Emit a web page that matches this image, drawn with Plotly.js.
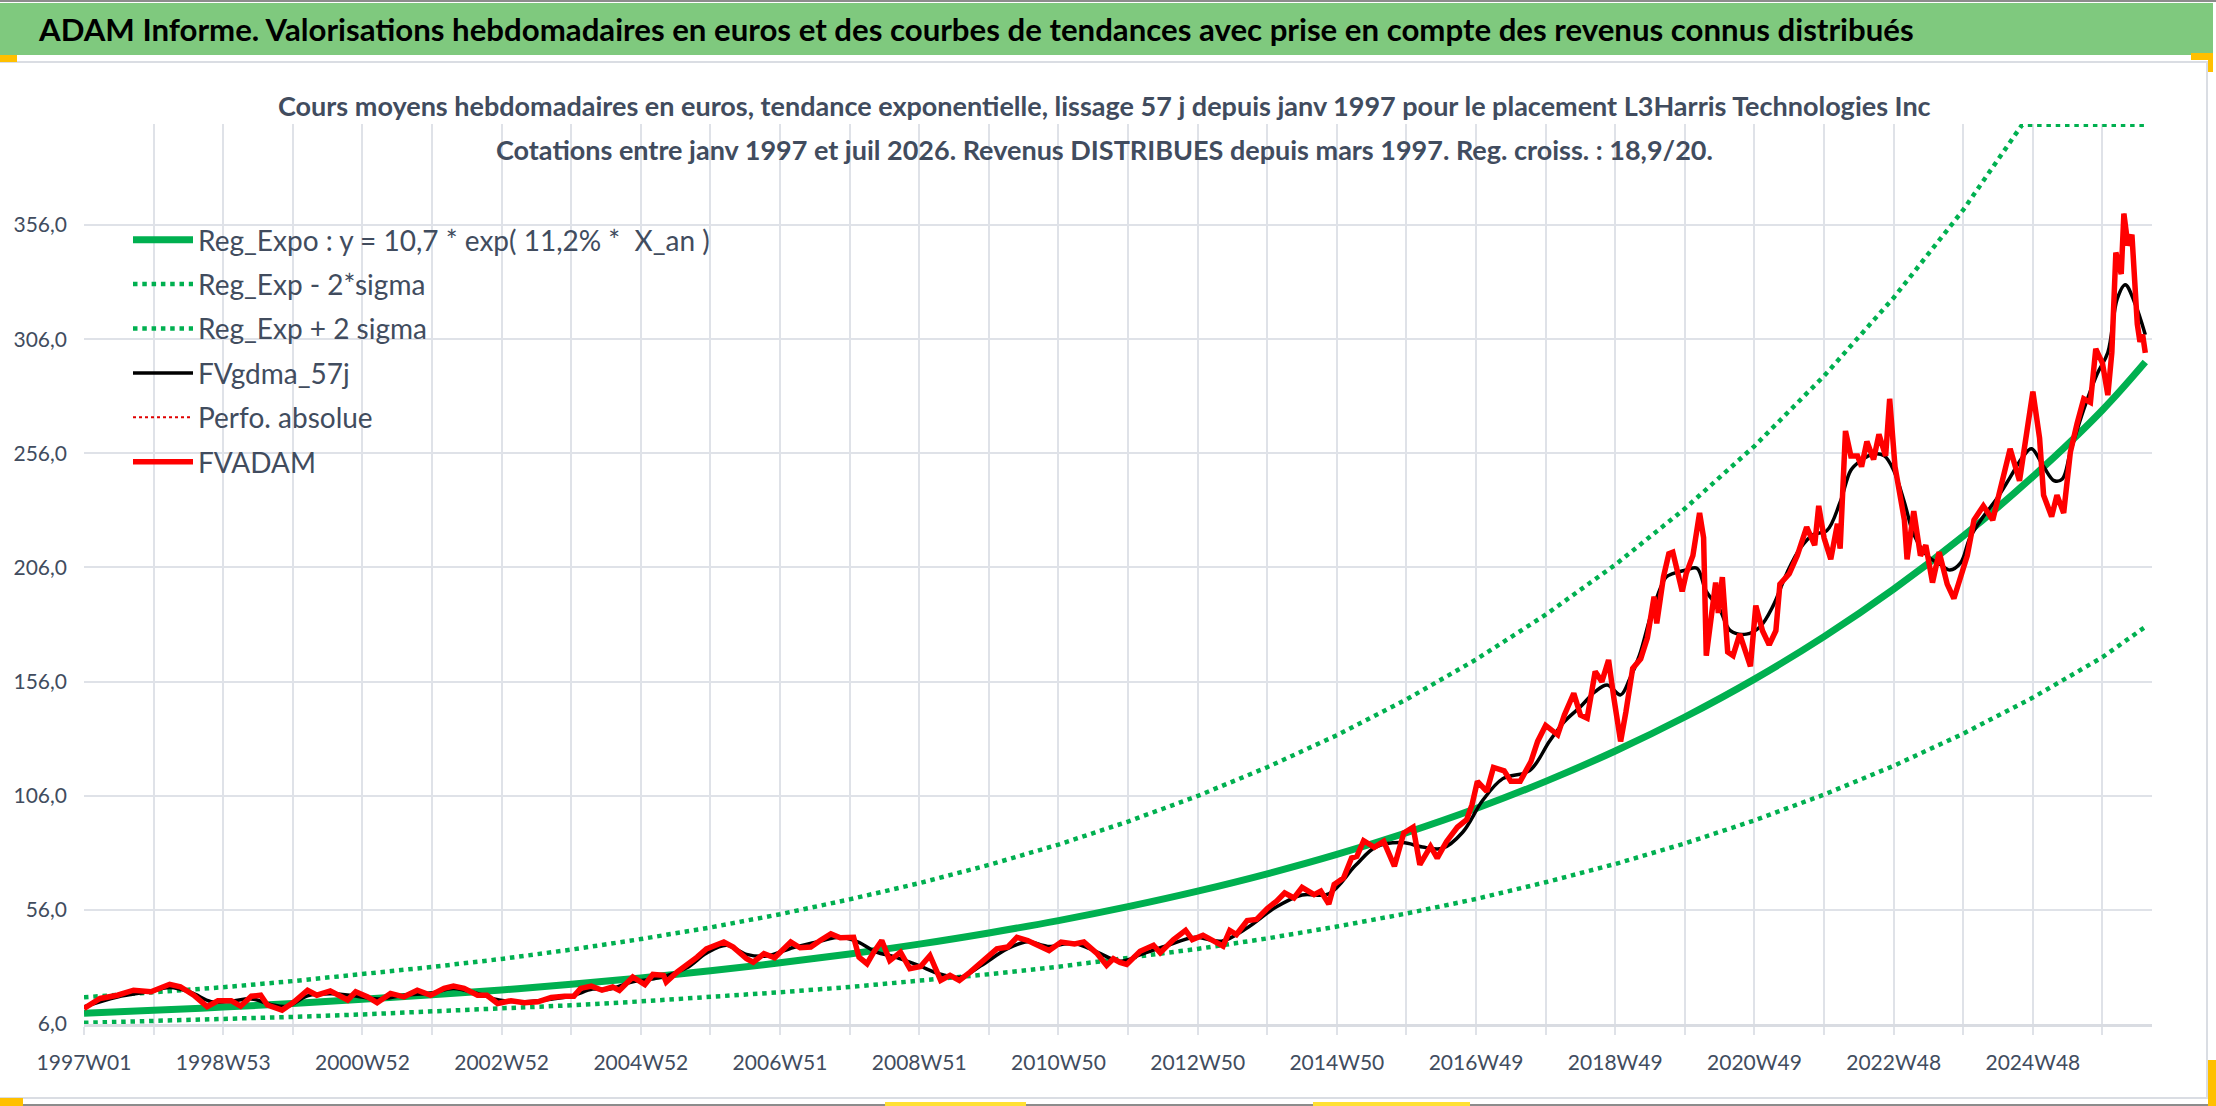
<!DOCTYPE html>
<html>
<head>
<meta charset="utf-8">
<script src="https://cdn.plot.ly/plotly-3.0.1.min.js"></script>
<style>
  html, body { margin: 0; padding: 0; background: #ffffff; }
  #chart { width: 2216px; height: 1106px; }
</style>
</head>
<body>
<div id="chart"></div>
<script>
// Week index 0 = 1997W01, one step per ISO week
const weekLabels = ["1997W01", "1998W53", "2000W52", "2002W52", "2004W52", "2006W51", "2008W51",
  "2010W50", "2012W50", "2014W50", "2016W49", "2018W49", "2020W49", "2022W48", "2024W48"];

// FVADAM (weekly valuation, euros)
const fvadamWeek = [0, 12, 25, 37, 50, 64, 72, 82, 92, 100, 110, 117, 125, 132, 137, 148, 157, 167, 174, 184,
  197, 203, 212, 219, 229, 239, 249, 259, 269, 276, 284, 294, 301, 309, 319, 329, 339, 349, 359, 366,
  371, 379, 387, 395, 400, 410, 419, 425, 433, 435, 443, 450, 458, 465, 478, 485, 495, 500, 508, 516,
  528, 535, 543, 550, 558, 565, 575, 579, 585, 590, 596, 602, 610, 617, 625, 632, 640, 647, 654, 662,
  672, 682, 690, 697, 705, 712, 721, 730, 740, 747, 757, 764, 769, 774, 779, 789, 799, 804, 814, 823,
  828, 836, 844, 851, 856, 861, 869, 876, 884, 891, 897, 904, 910, 919, 924, 930, 934, 941, 947, 951,
  956, 964, 971, 979, 986, 993, 998, 1006, 1011, 1018, 1026, 1033, 1037, 1041, 1048, 1053, 1061, 1066, 1073, 1081,
  1086, 1092, 1101, 1106, 1113, 1118, 1123, 1129, 1134, 1139, 1143, 1148, 1152, 1157, 1163, 1168, 1173, 1175, 1180, 1184,
  1187, 1191, 1194, 1197, 1202, 1207, 1210, 1212, 1216, 1219, 1221, 1224, 1228, 1232, 1237, 1245, 1249, 1254, 1259, 1264,
  1267, 1274, 1280, 1287, 1293, 1296, 1300, 1305, 1310, 1312, 1316, 1320, 1325, 1328, 1332, 1337, 1341, 1346, 1349, 1353,
  1360, 1362, 1367, 1372, 1376, 1381, 1386, 1392, 1397, 1402, 1407, 1412, 1419, 1426, 1432, 1439, 1446, 1452, 1456, 1461,
  1464, 1470, 1474, 1479, 1484, 1489, 1494, 1499, 1503, 1508, 1512, 1515, 1518, 1522, 1524, 1527, 1530, 1534, 1536, 1538,
  1540];
const fvadamVal = [12.8, 17.2, 18.6, 20.8, 20.1, 23.4, 22.3, 18.6, 13.6, 16.2, 16.2, 13.8, 18.2, 18.6, 14.3, 12.1, 15.7, 20.8, 18.6, 20.5,
  16.5, 20.1, 17.9, 15.3, 19.4, 17.9, 20.8, 18.6, 21.6, 22.6, 21.6, 18.6, 18.6, 15.0, 16.2, 15.3, 15.7, 17.6, 18.2, 18.2,
  21.6, 22.6, 20.8, 22.2, 20.7, 26.6, 23.3, 27.7, 27.3, 24.4, 28.7, 31.7, 35.3, 38.9, 41.9, 39.7, 34.6, 33.1, 36.8, 35.0,
  41.9, 39.4, 39.7, 42.6, 45.5, 43.8, 44.0, 35.3, 32.4, 37.5, 42.6, 33.8, 37.5, 30.2, 31.2, 36.0, 25.1, 27.3, 25.1, 28.7,
  33.8, 38.9, 39.7, 44.0, 42.6, 40.4, 38.2, 41.9, 41.1, 41.9, 36.8, 31.7, 34.6, 33.0, 32.1, 37.9, 40.5, 37.2, 43.0, 47.0,
  43.0, 44.9, 42.3, 40.1, 47.0, 45.2, 51.3, 51.8, 56.6, 59.8, 63.4, 61.2, 65.9, 62.7, 64.2, 58.6, 67.1, 70.0, 78.7, 79.5,
  86.3, 83.4, 86.0, 75.1, 89.7, 92.2, 75.8, 83.8, 78.7, 86.0, 92.2, 95.5, 102.1, 112.3, 107.9, 118.4, 116.9, 112.3, 112.3, 121.0,
  129.8, 136.8, 132.7, 141.4, 150.9, 141.4, 140.0, 160.4, 156.0, 165.5, 148.7, 129.8, 142.9, 161.8, 166.0, 175.2, 193.2, 181.5, 201.8, 212.0,
  212.7, 203.3, 195.5, 203.3, 211.2, 229.9, 219.0, 167.4, 187.7, 199.4, 186.1, 201.8, 169.0, 167.4, 176.8, 162.7, 189.3, 178.3, 172.1, 178.3,
  198.7, 203.3, 211.2, 223.7, 215.8, 233.0, 219.0, 209.6, 225.2, 214.3, 265.8, 254.9, 254.9, 250.2, 261.2, 253.3, 264.3, 254.9, 279.9, 250.2,
  226.8, 209.6, 230.7, 211.2, 215.8, 199.4, 212.7, 198.7, 192.4, 201.8, 211.2, 226.8, 233.0, 226.8, 240.8, 258.0, 244.0, 267.4, 283.0, 262.7,
  237.7, 228.3, 237.7, 229.9, 256.5, 269.0, 279.9, 278.3, 301.8, 295.5, 281.5, 300.2, 344.0, 334.6, 361.0, 347.1, 351.8, 312.7, 304.9, 308.0,
  300.0];

// FVgdma_57j (smoothed valuation)
const gdmaWeek = [0, 25, 50, 64, 80, 95, 110, 125, 140, 152, 167, 185, 200, 220, 240, 260, 276, 295, 310, 330,
  350, 365, 380, 392, 410, 430, 450, 465, 480, 495, 510, 530, 550, 565, 578, 592, 605, 622, 640, 655,
  670, 690, 705, 720, 740, 757, 774, 790, 810, 830, 850, 870, 890, 910, 930, 950, 965, 985, 1000, 1015,
  1030, 1045, 1060, 1080, 1095, 1106, 1118, 1129, 1138, 1148, 1155, 1162, 1172, 1182, 1187, 1197, 1205, 1212, 1222, 1230,
  1242, 1252, 1262, 1272, 1282, 1292, 1302, 1312, 1320, 1327, 1337, 1345, 1352, 1360, 1367, 1377, 1387, 1394, 1402, 1409,
  1419, 1429, 1439, 1449, 1455, 1464, 1472, 1478, 1484, 1494, 1504, 1512, 1519, 1525, 1532, 1540];
const gdmaVal = [13.5, 17.8, 20.3, 22.0, 19.8, 15.8, 16.0, 17.0, 14.5, 13.8, 18.3, 19.2, 18.5, 17.0, 18.6, 19.6, 21.6, 19.2, 16.5, 15.8,
  17.0, 18.4, 21.3, 21.2, 24.5, 26.3, 30.5, 37.0, 40.5, 36.5, 35.8, 39.5, 42.3, 44.0, 42.0, 37.5, 35.5, 32.0, 27.8, 26.5,
  31.5, 39.0, 42.0, 40.0, 41.3, 37.5, 33.5, 36.5, 40.5, 44.0, 42.3, 48.5, 57.0, 62.5, 63.0, 75.5, 83.5, 85.5, 83.5, 83.0,
  90.0, 104.0, 113.5, 117.0, 130.0, 138.5, 145.0, 151.6, 154.5, 150.2, 157.5, 167.4, 187.7, 201.8, 203.3, 204.9, 205.7, 195.5, 187.7, 178.3,
  176.8, 179.9, 189.3, 203.3, 214.3, 220.5, 222.1, 234.6, 248.6, 252.6, 255.7, 254.9, 248.6, 234.6, 220.5, 211.2, 207.3, 204.9, 208.0, 219.0,
  228.3, 236.1, 245.5, 254.9, 258.0, 250.2, 244.0, 244.8, 256.5, 275.2, 290.8, 300.2, 323.7, 329.9, 322.1, 308.0];

// Exponential trend and +/- 2 sigma bands, one reading per 52 weeks
const trendWeek = [0, 52, 104, 156, 208, 260, 312, 364, 416, 468, 520, 572, 624, 676, 728, 780, 832, 884, 936, 988,
  1040, 1092, 1144, 1196, 1248, 1300, 1352, 1404, 1456, 1508, 1540];
const trendVal = [10.7, 12.0, 13.4, 15.0, 16.8, 18.8, 20.9, 23.4, 26.2, 29.3, 32.8, 36.7, 41.0, 45.9, 51.3, 57.4, 64.2, 71.8, 80.3, 89.8,
  100.4, 112.3, 125.6, 140.5, 157.1, 175.7, 196.5, 219.8, 245.8, 275.0, 296.0];
const lowVal = [6.5, 7.3, 8.1, 9.1, 10.2, 11.4, 12.7, 14.2, 15.9, 17.8, 19.9, 22.2, 24.8, 27.8, 31.1, 34.8, 38.9, 43.5, 48.7, 54.4,
  60.8, 68.1, 76.1, 85.1, 95.2, 106.5, 119.1, 133.2, 149.0, 166.7, 180.0];
const highWeek = [0, 52, 104, 156, 208, 260, 312, 364, 416, 468, 520, 572, 624, 676, 728, 780, 832, 884, 936, 988,
  1040, 1092, 1144, 1196, 1248, 1300, 1352, 1404, 1448, 1508, 1540];
const highVal = [17.7, 19.8, 22.1, 24.8, 27.7, 31.0, 34.5, 38.6, 43.2, 48.3, 54.1, 60.6, 67.7, 75.7, 84.6, 94.7, 105.9, 118.5, 132.5, 148.2,
  165.7, 185.3, 207.2, 231.8, 259.2, 289.9, 324.2, 362.7, 400.0, 400.0, 400.0];

const seriesNames = ["Reg_Expo : y = 10,7 * exp( 11,2% *  X_an )", "Reg_Exp - 2*sigma", "Reg_Exp + 2 sigma",
  "FVgdma_57j", "Perfo. absolue", "FVADAM"];

const TXT = "#414C5E";
const GRID = "#DFE2E8";

// plot area is 2068 x 900 px, placed at (84, 124) in the page
function px(x) { return (x - 84) / 2068; }
function py(y) { return (1024 - y) / 900; }

function rect(x0, y0, x1, y1, color, layer) {
  return {type: "rect", xref: "paper", yref: "paper", x0: px(x0), x1: px(x1), y0: py(y1), y1: py(y0),
    fillcolor: color, line: {width: 0}, layer: layer || "above"};
}

function makeTrace(i, x, y, line, shape) {
  return {x: x, y: y, type: "scatter", mode: "lines", name: seriesNames[i], legendgroup: "g" + i,
    line: Object.assign({shape: shape || "linear"}, line), hoverinfo: "skip"};
}

let tickVals = [];
let tickText = [];
for (let i = 0; i < weekLabels.length; i++) {
  tickVals.push(i * 104);
  tickText.push(weekLabels[i]);
  if (i * 104 + 52 < 1545) {
    tickVals.push(i * 104 + 52);
    tickText.push("");
  }
}

let traces = [
  makeTrace(0, trendWeek, trendVal, {color: "#00B050", width: 7}, "spline"),
  makeTrace(1, trendWeek, lowVal, {color: "#00B050", width: 4.5, dash: "4.5px,4.8px"}),
  makeTrace(2, highWeek, highVal, {color: "#00B050", width: 4.5, dash: "4.5px,4.8px"}),
  makeTrace(3, gdmaWeek, gdmaVal, {color: "#000000", width: 3.5}, "spline"),
  makeTrace(4, fvadamWeek, fvadamVal, {color: "#E00000", width: 2, dash: "dot"}),
  makeTrace(5, fvadamWeek, fvadamVal, {color: "#FF0000", width: 5.5})
];

let shapes = [
  rect(0, 0, 2216, 2, "#8C8C8C"),
  rect(0, 3, 2213, 55, "#7FC97E"),
  rect(0, 61, 2208, 63, "#DADDE3"),
  rect(2206, 61, 2208, 1098, "#DADDE3"),
  rect(0, 1097, 2208, 1099, "#DADDE3"),
  rect(0, 1104, 2216, 1106, "#8C8C8C"),
  rect(0, 55, 17, 62, "#FFC000"),
  rect(2191, 53, 2213, 60, "#FFC000"),
  rect(2208, 53, 2213, 72, "#FFC000"),
  rect(0, 1098, 23, 1106, "#FFC000"),
  rect(2208, 1060, 2216, 1106, "#FFC000"),
  rect(885, 1102, 1026, 1106, "#FFE033"),
  rect(1313, 1102, 1470, 1106, "#FFE033"),
  // white box behind the subtitle hides the top of the gridlines
  rect(240, 124, 1940, 172, "#FFFFFF", "between")
];

let annotations = [
  {xref: "paper", yref: "paper", x: px(36), y: py(29), xanchor: "left", yanchor: "middle", showarrow: false,
    text: "ADAM Informe. Valorisations hebdomadaires en euros et des courbes de tendances avec prise en compte des revenus connus distribués",
    font: {family: "Lato", size: 31.2, color: "#000000", weight: 700}},
  {xref: "paper", yref: "paper", x: px(1104), y: py(106), xanchor: "center", yanchor: "middle", showarrow: false,
    text: "Cours moyens hebdomadaires en euros, tendance exponentielle, lissage 57 j depuis janv 1997 pour le placement L3Harris Technologies Inc",
    font: {family: "Lato", size: 27, color: TXT, weight: 700}},
  {xref: "paper", yref: "paper", x: px(1104), y: py(149), xanchor: "center", yanchor: "middle", showarrow: false,
    text: "Cotations entre janv 1997 et juil 2026. Revenus DISTRIBUES depuis mars 1997. Reg. croiss. : 18,9/20.",
    font: {family: "Lato", size: 27, color: TXT, weight: 700}}
];

let layout = {
  width: 2216, height: 1106,
  margin: {l: 84, r: 64, t: 124, b: 82},
  paper_bgcolor: "#ffffff", plot_bgcolor: "#ffffff",
  separators: ", ",
  font: {family: "Lato", color: TXT},
  showlegend: true,
  legend: {x: px(128), y: py(215), xanchor: "left", yanchor: "top", bgcolor: "rgba(0,0,0,0)",
    font: {family: "Lato", size: 28, color: TXT}, tracegroupgap: 5, itemwidth: 60},
  xaxis: {range: [0, 1545], tickmode: "array", tickvals: tickVals, ticktext: tickText,
    showgrid: true, gridcolor: GRID, gridwidth: 2, zeroline: false,
    ticks: "outside", ticklen: 8, tickwidth: 2, tickcolor: GRID, ticklabelstandoff: 10,
    showline: true, linecolor: "#D9DCE2", linewidth: 3,
    tickfont: {family: "Lato", size: 21, color: TXT}},
  yaxis: {range: [6, 400.3], tickmode: "linear", tick0: 6, dtick: 50, tickformat: ".1f",
    showgrid: true, gridcolor: GRID, gridwidth: 2, zeroline: false, ticks: "",
    ticklabelstandoff: 16, showline: false,
    tickfont: {family: "Lato", size: 21, color: TXT}},
  shapes: shapes,
  annotations: annotations
};

Plotly.newPlot("chart", traces, layout, {displayModeBar: false, staticPlot: true});
</script>
</body>
</html>
